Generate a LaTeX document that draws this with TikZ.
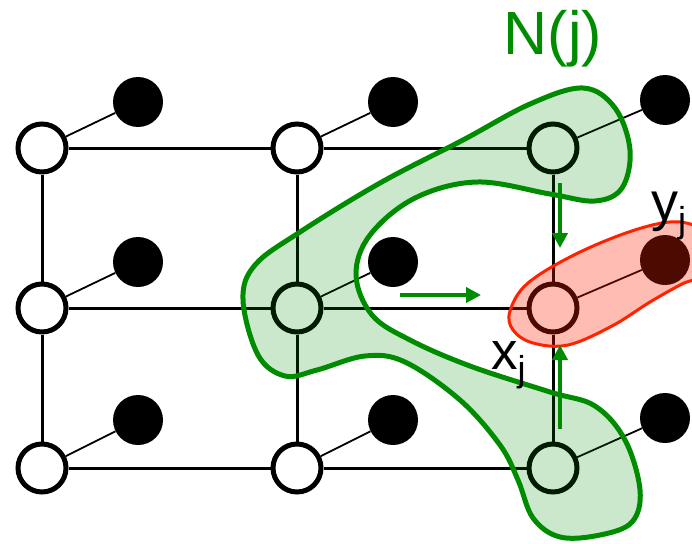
\documentclass[tikz,border=0pt]{standalone}
\usepackage{fontspec}
\setmainfont{Liberation Sans}
\usetikzlibrary{arrows.meta}
\definecolor{ngreen}{RGB}{0,140,0}
\definecolor{nred}{RGB}{255,34,0}
\tikzset{
  xnode/.style={circle, draw=black, line width=5pt, fill=white, minimum size=48pt, inner sep=0pt},
  ynode/.style={circle, fill=black, minimum size=50pt, inner sep=0pt},
  grid/.style={line width=3pt, black},
  link/.style={line width=1.8pt, black},
  garrow/.style={ngreen, line width=4pt, -{Triangle[length=15pt, width=15pt]}},
}
\begin{document}
\begin{tikzpicture}[x=1pt, y=-1pt]
\useasboundingbox (0,0) rectangle (692,543);
% hidden nodes x
\foreach \c/\xx in {1/42, 2/297, 3/553}{
  \foreach \r/\yy in {1/148, 2/308, 3/468}{
    \node[xnode] (x\r\c) at (\xx,\yy) {};
  }
}
% observed nodes y
\foreach \r/\yy in {1/102, 2/262, 3/420}{
  \node[ynode] (y\r1) at (138,\yy) {};
  \node[ynode] (y\r2) at (393,\yy) {};
  \node[ynode] (y\r3) at (665,\yy-2) {};
}
% grid
\foreach \r in {1,2,3}{
  \draw[grid] (x\r1) -- (x\r2);
  \draw[grid] (x\r2) -- (x\r3);
  \draw[grid] (x1\r) -- (x2\r);
  \draw[grid] (x2\r) -- (x3\r);
  \foreach \c in {1,2,3}{
    \draw[link] (x\r\c) -- (y\r\c);
  }
}
% neighbourhood N(j)
\draw[ngreen, line width=5pt, fill=ngreen, fill opacity=0.2]
  plot[smooth cycle, tension=0.6] coordinates {
  (583,88) (615,108) (630,150) (622,188) (595,201) (550,194) (477,182)
  (415,198) (370,235) (356,275) (372,315) (410,340) (470,366) (550,392)
  (595,406) (625,440) (640,490) (632,522) (600,535) (560,537) (533,518)
  (518,480) (500,445) (460,400) (405,362) (365,356) (317,370) (285,376)
  (258,355) (243,300) (255,265) (300,232) (380,183) (463,140) (530,104)};
% pair (x_j, y_j)
\draw[nred, line width=3pt, fill=nred, fill opacity=0.3]
  plot[smooth cycle, tension=0.6] coordinates {
  (510,311) (528,283) (578,253) (638,229) (680,222) (708,236) (708,272)
  (682,284) (650,302) (612,326) (568,345) (533,343) (513,330)};
% messages
\coordinate (d1) at (560,183); \coordinate (d2) at (560,248);
\coordinate (u1) at (560,429); \coordinate (u2) at (560,345);
\coordinate (h1) at (400,295); \coordinate (h2) at (481,295);
\draw[garrow] (d1) -- (d2);
\draw[garrow] (u1) -- (u2);
\draw[garrow] (h1) -- (h2);
% labels
\node[anchor=base, inner sep=0pt, text=ngreen] (nj) at (553,55)
  {\fontsize{61}{61}\selectfont N(j)};
\node[anchor=base west, inner sep=0pt] (xj) at (491,369)
  {\fontsize{53}{53}\selectfont x\raisebox{-12pt}{\fontsize{36}{36}\selectfont j}};
\node[anchor=base west, inner sep=0pt] (yj) at (651,220)
  {\fontsize{54}{54}\selectfont y\raisebox{-12pt}{\fontsize{36}{36}\selectfont j}};
\end{tikzpicture}
\end{document}
